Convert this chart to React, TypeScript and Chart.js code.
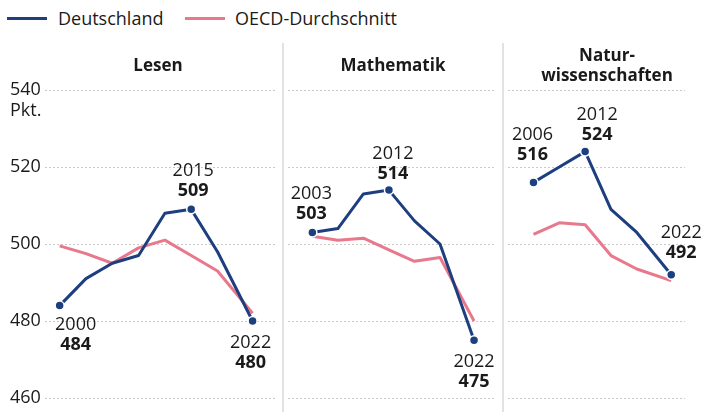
import React, { useEffect, useRef } from 'react';
import { Chart, registerables } from 'chart.js';

Chart.register(...registerables);

const FONT = '"Open Sans", "DejaVu Sans", sans-serif';
const BLUE = '#1e3f7f';
const PINK = '#e8788b';
const TEXT = '#1a1a1a';

// ---- Data ----
const lesenYears = [2000, 2003, 2006, 2009, 2012, 2015, 2018, 2022];
const lesenDE = [484, 491, 495, 497, 508, 509, 498, 480];
const lesenOECD = [499.5, 497.5, 495, 499, 501, 497, 493, 482];

const mathYears = [2003, 2006, 2009, 2012, 2015, 2018, 2022];
const mathDE = [503, 504, 513, 514, 506, 500, 475];
const mathOECD = [502, 501, 501.5, 498.5, 495.5, 496.5, 480];

const sciYears = [2006, 2009, 2012, 2015, 2018, 2022];
const sciDE = [516, 520, 524, 509, 503, 492];
const sciOECD = [502.5, 505.5, 505, 497, 493.5, 490.5];

const yTicks = [460, 480, 500, 520, 540];
const seriesNames = ['Deutschland', 'OECD-Durchschnitt'];
const unitLabel = 'Pkt.';

type Panel = {
  title: string[];
  years: number[];
  de: number[];
  oecd: number[];
  labeled: number[];
  offsets: number[][];
  left: number;
  width: number;
  xMin: number;
  xMax: number;
  padLeft: number;
  padRight: number;
  axisWidth: number;
  showTicks: boolean;
  titleX: number;
  titleY: number[];
  separator: boolean;
};

const panels: Panel[] = [
  {
    title: ['Lesen'], years: lesenYears, de: lesenDE, oecd: lesenOECD,
    labeled: [0, 5, 7], offsets: [[16, 18], [2, -40], [-2, 21]],
    left: 0, width: 282, xMin: 1998.33, xMax: 2024.67,
    padLeft: 10, padRight: 0, axisWidth: 35, showTicks: true,
    titleX: 158, titleY: [65], separator: false,
  },
  {
    title: ['Mathematik'], years: mathYears, de: mathDE, oecd: mathOECD,
    labeled: [0, 3, 6], offsets: [[-1, -40], [4, -38], [0, 20]],
    left: 282, width: 220, xMin: 2000.14, xMax: 2024.58,
    padLeft: 0, padRight: 0, axisWidth: 0, showTicks: false,
    titleX: 111, titleY: [65], separator: true,
  },
  {
    title: ['Natur-', 'wissenschaften'], years: sciYears, de: sciDE, oecd: sciOECD,
    labeled: [0, 2, 5], offsets: [[-1, -49], [12, -38], [10, -43]],
    left: 502, width: 199, xMin: 2003.04, xMax: 2023.6,
    padLeft: 0, padRight: 16, axisWidth: 0, showTicks: false,
    titleX: 105, titleY: [55, 75], separator: true,
  },
];

function PanelChart({ p }: { p: Panel }) {
  const ref = useRef<HTMLCanvasElement | null>(null);
  useEffect(() => {
    if (!ref.current) return;
    const radii = p.de.map((_, i) => (p.labeled.includes(i) ? 4.5 : 0));
    const deco = {
      id: 'deco' + p.left,
      beforeDatasetsDraw(chart: any) {
        const ctx = chart.ctx;
        if (p.separator) {
          ctx.save();
          ctx.strokeStyle = '#d9d9d9';
          ctx.lineWidth = 1.5;
          ctx.beginPath();
          ctx.moveTo(1, 43);
          ctx.lineTo(1, 412);
          ctx.stroke();
          ctx.restore();
        }
      },
      afterDatasetsDraw(chart: any) {
        const ctx = chart.ctx;
        const xs = chart.scales.x;
        const ys = chart.scales.y;
        ctx.save();
        ctx.fillStyle = TEXT;
        ctx.textBaseline = 'alphabetic';
        ctx.textAlign = 'center';
        ctx.font = `bold 17px ${FONT}`;
        p.title.forEach((t, i) => ctx.fillText(t, p.titleX, p.titleY[i] + 6.1));
        if (p.showTicks) {
          ctx.textAlign = 'left';
          ctx.font = `18px ${FONT}`;
          ctx.fillText(unitLabel, 10, ys.getPixelForValue(yTicks[yTicks.length - 1]) + 20 + 6.4);
        }
        ctx.textAlign = 'center';
        p.labeled.forEach((idx, k) => {
          const px = xs.getPixelForValue(p.years[idx]);
          const py = ys.getPixelForValue(p.de[idx]);
          const [dx, dy] = p.offsets[k];
          ctx.font = `18px ${FONT}`;
          ctx.fillText(String(p.years[idx]), px + dx, py + dy + 6.4);
          ctx.font = `bold 18px ${FONT}`;
          ctx.fillText(String(p.de[idx]), px + dx, py + dy + 20 + 6.4);
        });
        ctx.restore();
      },
    };
    const chart = new Chart(ref.current, {
      type: 'line',
      data: {
        datasets: [
          {
            label: seriesNames[0],
            data: p.years.map((y, i) => ({ x: y, y: p.de[i] })),
            borderColor: BLUE,
            backgroundColor: BLUE,
            borderWidth: 3,
            borderJoinStyle: 'round',
            pointRadius: radii,
            pointHoverRadius: radii,
            pointBackgroundColor: BLUE,
            pointBorderColor: '#ffffff',
            pointBorderWidth: 1.5,
            clip: false,
          },
          {
            label: seriesNames[1],
            data: p.years.map((y, i) => ({ x: y, y: p.oecd[i] })),
            borderColor: PINK,
            backgroundColor: PINK,
            borderWidth: 3,
            borderJoinStyle: 'round',
            pointRadius: 0,
            clip: false,
          },
        ],
      },
      options: {
        animation: false,
        responsive: false,
        events: [],
        layout: { padding: { top: 90, bottom: 14, left: p.padLeft, right: p.padRight } },
        plugins: { legend: { display: false }, tooltip: { enabled: false }, title: { display: false } },
        scales: {
          x: { type: 'linear', min: p.xMin, max: p.xMax, display: false },
          y: {
            type: 'linear',
            min: yTicks[0],
            max: yTicks[yTicks.length - 1],
            afterBuildTicks: (scale: any) => {
              scale.ticks = yTicks.map((v) => ({ value: v }));
            },
            afterFit: (scale: any) => {
              scale.width = p.axisWidth;
            },
            ticks: {
              display: p.showTicks,
              crossAlign: 'far',
              color: TEXT,
              font: { family: FONT, size: 18 },
            },
            grid: { color: '#c9c9c9', lineWidth: 1, drawTicks: false },
            border: { display: false, dash: [2, 2] },
          },
        },
      } as any,
      plugins: [deco],
    });
    return () => chart.destroy();
  }, [p]);
  return (
    <canvas
      ref={ref}
      width={p.width}
      height={412}
      style={{ position: 'absolute', left: p.left, top: 0, width: p.width, height: 412 }}
    />
  );
}

export default function App() {
  const legendText: React.CSSProperties = {
    position: 'absolute',
    top: 6,
    height: 24,
    lineHeight: '24px',
    fontFamily: FONT,
    fontSize: 18,
    color: TEXT,
    whiteSpace: 'nowrap',
  };
  return (
    <div style={{ position: 'absolute', left: 0, top: 0, width: 701, height: 412, background: '#fff', overflow: 'hidden' }}>
      <div style={{ position: 'absolute', left: 7, top: 16.5, width: 40, height: 3, background: BLUE }} />
      <div style={{ ...legendText, left: 58 }}>{seriesNames[0]}</div>
      <div style={{ position: 'absolute', left: 185, top: 16.5, width: 40, height: 3, background: PINK }} />
      <div style={{ ...legendText, left: 235 }}>{seriesNames[1]}</div>
      {panels.map((p) => (
        <PanelChart key={p.left} p={p} />
      ))}
    </div>
  );
}
